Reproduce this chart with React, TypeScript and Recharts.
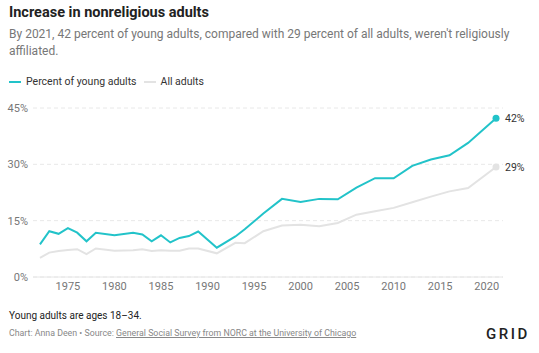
import { LineChart, Line, XAxis, YAxis, CartesianGrid } from 'recharts';

// GSS survey years
const years = [
  1972, 1973, 1974, 1975, 1976, 1977, 1978, 1980, 1982, 1983, 1984, 1985, 1986, 1987, 1988, 1989,
  1991, 1993, 1994, 1996, 1998, 2000, 2002, 2004, 2006, 2008, 2010, 2012, 2014, 2016, 2018, 2021,
];
const youngAdults = [
  8.7, 12.2, 11.5, 13.0, 11.8, 9.5, 11.8, 11.1, 11.8, 11.3, 9.5, 11.1, 9.2, 10.4, 10.9, 12.1,
  7.8, 10.8, 12.7, 16.9, 20.8, 20.0, 20.8, 20.7, 23.8, 26.3, 26.3, 29.6, 31.3, 32.4, 35.7, 42.3,
];
const allAdults = [
  5.1, 6.5, 6.9, 7.2, 7.4, 6.1, 7.6, 7.0, 7.1, 7.4, 6.9, 7.1, 7.0, 7.0, 7.6, 7.6,
  6.3, 9.1, 9.0, 12.2, 13.7, 13.9, 13.5, 14.4, 16.6, 17.5, 18.4, 19.9, 21.4, 22.8, 23.7, 29.3,
];
const yTicks = [0, 15, 30, 45];
const xTicks = [1975, 1980, 1985, 1990, 1995, 2000, 2005, 2010, 2015, 2020];
const endLabels = ['42%', '29%'];

const data = years.map((year, i) => ({ year, young: youngAdults[i], all: allAdults[i] }));
const last = data.length - 1;

const TEAL = '#22c3c9';
const LIGHT = '#e3e3e3';
const font = 'Roboto, "Noto Sans", sans-serif';

function endDot(color: string) {
  return (props: any) => {
    if (props.index !== last) return <g key={props.index} />;
    return <circle key={props.index} cx={props.cx} cy={props.cy} r={3.5} fill={color} />;
  };
}

function endLabel(text: string) {
  return (props: any) => {
    if (props.index !== last) return <g key={props.index} />;
    return (
      <text key={props.index} x={props.x + 9} y={props.y + 4} fontSize={10.5} fill="#333" fontFamily={font}>
        {text}
      </text>
    );
  };
}

export default function App() {
  return (
    <div style={{ position: 'absolute', top: 0, left: 0, width: 539, height: 353, background: '#fff', fontFamily: font }}>
      <div style={{ position: 'absolute', left: 9, top: 4, fontSize: 14.5, fontWeight: 700, color: '#222' }}>
        Increase in nonreligious adults
      </div>
      <div style={{ position: 'absolute', left: 9, top: 26, width: 515, fontSize: 12, lineHeight: '17px', color: '#777' }}>
        By 2021, 42 percent of young adults, compared with 29 percent of all adults, weren't religiously affiliated.
      </div>
      <div style={{ position: 'absolute', left: 9, top: 75, display: 'flex', alignItems: 'center', fontSize: 10.5, color: '#333' }}>
        <span style={{ width: 12, height: 2, background: TEAL, marginRight: 5 }} />
        <span style={{ marginRight: 7 }}>Percent of young adults</span>
        <span style={{ width: 12, height: 2, background: LIGHT, marginRight: 5 }} />
        <span>All adults</span>
      </div>

      <div style={{ position: 'absolute', left: 0, top: 0 }}>
        <LineChart width={539} height={300} data={data} margin={{ top: 108, right: 36, bottom: 3, left: 0 }}>
          <CartesianGrid vertical={false} stroke="#e8e8e8" strokeDasharray="4 3" />
          <XAxis
            dataKey="year"
            type="number"
            domain={[1971.25, 2021.75]}
            ticks={xTicks}
            height={20}
            tickLine={false}
            tickSize={0}
            tickMargin={5}
            axisLine={{ stroke: '#e6e6e6' }}
            tick={{ fontSize: 11, fill: '#777', fontFamily: font }}
          />
          <YAxis
            domain={[0, 45]}
            ticks={yTicks}
            width={33}
            axisLine={false}
            tickLine={false}
            tickSize={3}
            tickMargin={2}
            tickFormatter={(v) => `${v}%`}
            tick={{ fontSize: 11, fill: '#777', fontFamily: font }}
          />
          <Line
            dataKey="all"
            stroke={LIGHT}
            strokeWidth={2}
            dot={endDot(LIGHT)}
            activeDot={false}
            label={endLabel(endLabels[1])}
            isAnimationActive={false}
          />
          <Line
            dataKey="young"
            stroke={TEAL}
            strokeWidth={2}
            dot={endDot(TEAL)}
            activeDot={false}
            label={endLabel(endLabels[0])}
            isAnimationActive={false}
          />
        </LineChart>
      </div>

      <div style={{ position: 'absolute', left: 9, top: 310, fontSize: 10, color: '#222' }}>
        Young adults are ages 18–34.
      </div>
      <div style={{ position: 'absolute', left: 9, top: 328, fontSize: 8.8, color: '#888' }}>
        Chart: Anna Deen • Source:{' '}
        <span style={{ textDecoration: 'underline' }}>General Social Survey from NORC at the University of Chicago</span>
      </div>
      <div style={{ position: 'absolute', left: 486, top: 325, fontSize: 15, letterSpacing: 2.5, color: '#222', fontWeight: 500 }}>
        GRID
      </div>
    </div>
  );
}
